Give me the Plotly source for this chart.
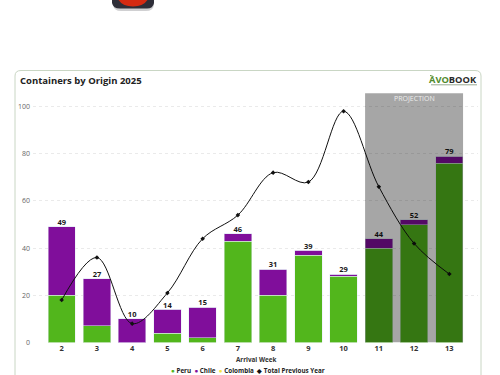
import plotly.graph_objects as go

weeks = [2, 3, 4, 5, 6, 7, 8, 9, 10, 11, 12, 13]
peru = [20, 7, 0, 4, 2, 43, 20, 37, 28, 40, 50, 76]
chile = [29, 20, 10, 10, 13, 3, 11, 2, 1, 4, 2, 3]
colombia = [0] * 12
totals = [49, 27, 10, 14, 15, 46, 31, 39, 29, 44, 52, 79]
previous_year = [18, 36, 8, 21, 44, 54, 72, 68, 98, 66, 42, 29]
y_ticks = [0, 20, 40, 60, 80, 100]

GREEN, PURPLE, YELLOW = "#52B61C", "#800E9B", "#F5E642"
FONT = "Open Sans"
W, H = 500, 375
px = lambda v: v / W
py = lambda v: 1 - v / H

fig = go.Figure()
fig.add_bar(x=weeks, y=peru, name="Peru", marker_color=GREEN, width=0.776)
fig.add_bar(x=weeks, y=chile, name="Chile", marker_color=PURPLE, width=0.776)
fig.add_bar(x=weeks, y=colombia, name="Colombia", marker_color=YELLOW, width=0.776)
fig.add_scatter(x=weeks, y=totals, mode="text", text=[str(t) for t in totals], name="Total",
                textposition="top center", cliponaxis=False,
                textfont=dict(family=FONT, size=7.5, color="#1a1a1a", weight="bold"))
fig.add_scatter(x=weeks, y=previous_year, mode="lines+markers", name="Total Previous Year",
                line=dict(color="#111111", width=1, shape="spline", smoothing=1.0),
                marker=dict(symbol="diamond", size=3.5, color="#111111"))

shapes = [
    # card
    dict(type="path", xref="paper", yref="paper", layer="below",
         path=f"M {px(15)} {py(380)} L {px(15)} {py(76)} Q {px(15)} {py(70.5)} {px(21)} {py(70.5)} "
              f"L {px(475)} {py(70.5)} Q {px(481)} {py(70.5)} {px(481)} {py(76)} L {px(481)} {py(380)}",
         line=dict(color="#C9D6C4", width=1), fillcolor="white"),
    # projection band
    dict(type="rect", xref="x", yref="y", x0=10.61, x1=13.39, y0=0, y1=105.6, layer="above",
         fillcolor="rgba(0,0,0,0.35)", line_width=0),
    # cropped badge at the top
    dict(type="path", xref="paper", yref="paper", layer="below",
         path=f"M {px(113)} {py(-2)} L {px(113)} {py(5)} Q {px(114)} {py(11)} {px(121)} {py(11)} "
              f"L {px(146)} {py(11)} Q {px(153)} {py(11)} {px(154)} {py(5)} L {px(154)} {py(-2)} Z",
         line_width=0, fillcolor="rgba(120,120,125,0.35)"),
    dict(type="path", xref="paper", yref="paper", layer="below",
         path=f"M {px(112)} {py(-2)} L {px(112)} {py(3)} Q {px(113)} {py(8.5)} {px(120)} {py(8.5)} "
              f"L {px(147)} {py(8.5)} Q {px(153)} {py(8.5)} {px(154)} {py(3)} L {px(154)} {py(-2)} Z",
         line_width=0, fillcolor="#2E2E38"),
    dict(type="path", xref="paper", yref="paper", layer="below",
         path=f"M {px(118)} {py(-1)} Q {px(122)} {py(6.5)} {px(133)} {py(6.5)} "
              f"Q {px(144)} {py(6.5)} {px(148)} {py(-1)} Z",
         line_width=0, fillcolor="#D42A12"),
    # logo leaf and its illegible strapline
    dict(type="line", xref="paper", yref="paper", x0=px(430), x1=px(433.5), y0=py(75.5), y1=py(76.5),
         line=dict(color="#4F8A2C", width=1)),
    dict(type="line", xref="paper", yref="paper", x0=px(431), x1=px(477), y0=py(84.8), y1=py(84.8),
         line=dict(color="rgba(70,100,60,0.55)", width=1)),
]

legend_text = (f'<span style="color:{GREEN}">●</span> Peru  '
               f'<span style="color:{PURPLE}">●</span> Chile  '
               f'<span style="color:{YELLOW}">●</span> Colombia  '
               f'<span style="color:#111111">◆</span> Total Previous Year')

annotations = [
    dict(text="<b>Containers by Origin 2025</b>", xref="paper", yref="paper",
         x=px(18), y=py(80), xanchor="left", yanchor="middle", showarrow=False,
         font=dict(family=FONT, size=9.5, color="#222222")),
    dict(text="PROJECTION", xref="paper", yref="paper", x=px(414), y=py(98.5),
         xanchor="center", yanchor="middle", showarrow=False,
         font=dict(family=FONT, size=7, color="#EDEDED")),
    dict(text='<b><span style="color:#4F8A2C">AVO</span><span style="color:#2A2A2A">BOOK</span></b>',
         xref="paper", yref="paper", x=px(479), y=py(79.5), xanchor="right", yanchor="middle",
         showarrow=False, font=dict(family=FONT, size=9.3)),
    dict(text="<b>Arrival Week</b>", xref="paper", yref="paper", x=px(256), y=py(359),
         xanchor="center", yanchor="middle", showarrow=False,
         font=dict(family=FONT, size=6.3, color="#333333")),
    dict(text=f"<b>{legend_text}</b>", xref="paper", yref="paper", x=px(248), y=py(370),
         xanchor="center", yanchor="middle", showarrow=False,
         font=dict(family=FONT, size=6.3, color="#222222")),
]

fig.update_layout(
    width=W, height=H, autosize=False, barmode="stack", bargap=0.224, showlegend=False,
    margin=dict(l=0, r=0, t=0, b=0),
    paper_bgcolor="white", plot_bgcolor="rgba(0,0,0,0)",
    font=dict(family=FONT),
    shapes=shapes, annotations=annotations,
    xaxis=dict(domain=[px(33), px(478)], range=[1.186, 13.814], tickmode="array",
               tickvals=weeks, ticktext=[str(w) for w in weeks], showgrid=False, zeroline=False,
               showline=False, ticks="", anchor="y", automargin=False,
               tickfont=dict(family=FONT, size=7.5, color="#333333", weight="bold")),
    yaxis=dict(domain=[py(342.5), py(93)], range=[0, 105.75], tickmode="array", tickvals=y_ticks,
               showgrid=True, gridcolor="#EAEAEA", griddash="dot", gridwidth=1, zeroline=False,
               showline=False, ticks="", ticklabelstandoff=2, automargin=False,
               tickfont=dict(family=FONT, size=7, color="#666666")),
)
fig.write_html("out.html", config=dict(displayModeBar=False),
               post_script="document.body.style.margin='0';")
